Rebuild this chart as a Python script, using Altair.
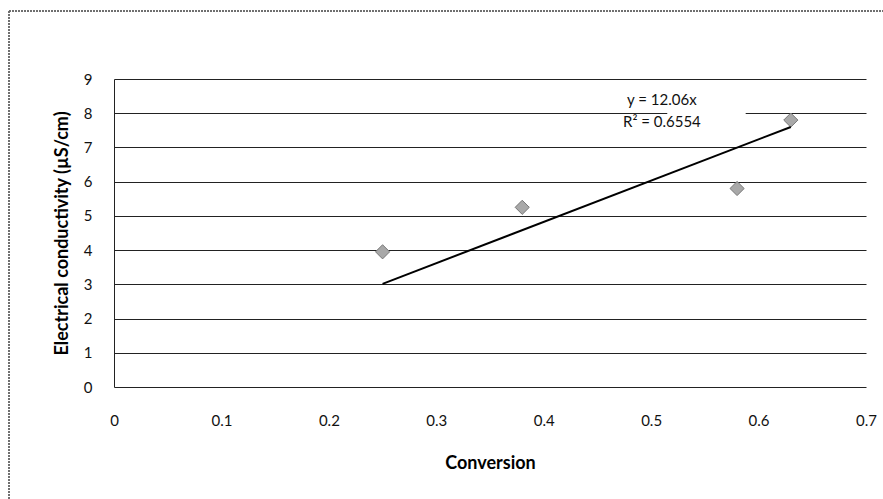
import altair as alt
import pandas as pd

# Measured points
conversion = [0.25, 0.38, 0.58, 0.63]
conductivity = [3.95, 5.25, 5.8, 7.8]

# Linear trend through the origin
slope = 12.06
trend_x = [0.25, 0.63]
trend_y = [slope * v for v in trend_x]

eq_lines = ["y = 12.06x", "R² = 0.6554"]
eq_x = [0.51, 0.51]
eq_y = [8.4, 7.74]

FONT = "Lato"
W, H = 752, 308

pts = pd.DataFrame({"x": conversion, "y": conductivity})
trend = pd.DataFrame({"x": trend_x, "y": trend_y})
eq = pd.DataFrame({"x": eq_x, "y": eq_y, "t": eq_lines})
mask = pd.DataFrame({"x0": [0.515], "x1": [0.588], "y0": [8.75], "y1": [7.45]})

xs = alt.Scale(domain=[0, 0.7], nice=False, zero=True)
ys = alt.Scale(domain=[0, 9], nice=False)

xaxis = alt.Axis(values=[0, 0.1, 0.2, 0.3, 0.4, 0.5, 0.6, 0.7], format="~g",
                 title="Conversion", titleFontSize=18, titleFont=FONT, titleFontWeight="bold",
                 titlePadding=26, labelFont=FONT, labelFontSize=15, labelColor="#111",
                 labelPadding=26, ticks=False, domain=False, grid=False, labelFlush=False)
yaxis = alt.Axis(values=[0, 1, 2, 3, 4, 5, 6, 7, 8, 9], title="Electrical conductivity (µS/cm)",
                 titleFontSize=18, titleFont=FONT, titleFontWeight="bold", titlePadding=12,
                 labelFont=FONT, labelFontSize=15, labelColor="#111", labelPadding=22,
                 labelOverlap=False, ticks=False, domain=True, domainColor="#222", grid=True,
                 gridColor="#222", gridWidth=1.2)


def X(field):
    return alt.X(field, scale=xs, axis=xaxis)


def Y(field):
    return alt.Y(field, scale=ys, axis=yaxis)


scatter = alt.Chart(pts).mark_point(shape="diamond", filled=True, size=200, color="#a8a8a8",
                                    stroke="#777", strokeWidth=1, opacity=1).encode(
    x=X("x:Q"), y=Y("y:Q"))

line = alt.Chart(trend).mark_line(color="black", strokeWidth=2).encode(
    x=X("x:Q"), y=Y("y:Q"))

# white backing behind the regression equation
box = alt.Chart(mask).mark_rect(fill="white", strokeWidth=0).encode(
    x=X("x0:Q"), x2=alt.X2("x1"), y=Y("y0:Q"), y2=alt.Y2("y1"))

label = alt.Chart(eq).mark_text(font=FONT, fontSize=15, color="#111").encode(
    x=X("x:Q"), y=Y("y:Q"), text="t:N")

# Outer frame around the whole figure
frame_left = alt.Chart(pts).mark_rule(color="#666", strokeDash=[2, 1], clip=False).encode(
    x=alt.value(-105), y=alt.value(-68), y2=alt.value(430))
frame_top = alt.Chart(pts).mark_rule(color="#666", strokeDash=[2, 1], clip=False).encode(
    x=alt.value(-105), x2=alt.value(780), y=alt.value(-68))

chart = alt.layer(scatter, box, line, label, frame_left, frame_top).properties(
    width=W, height=H, padding={"left": 114, "top": 79, "right": 17, "bottom": 112},
    autosize=alt.AutoSizeParams(type="none"), background="white",
).configure_view(stroke=None)

chart.save("out.html", embed_options={"renderer": "svg", "actions": False})
